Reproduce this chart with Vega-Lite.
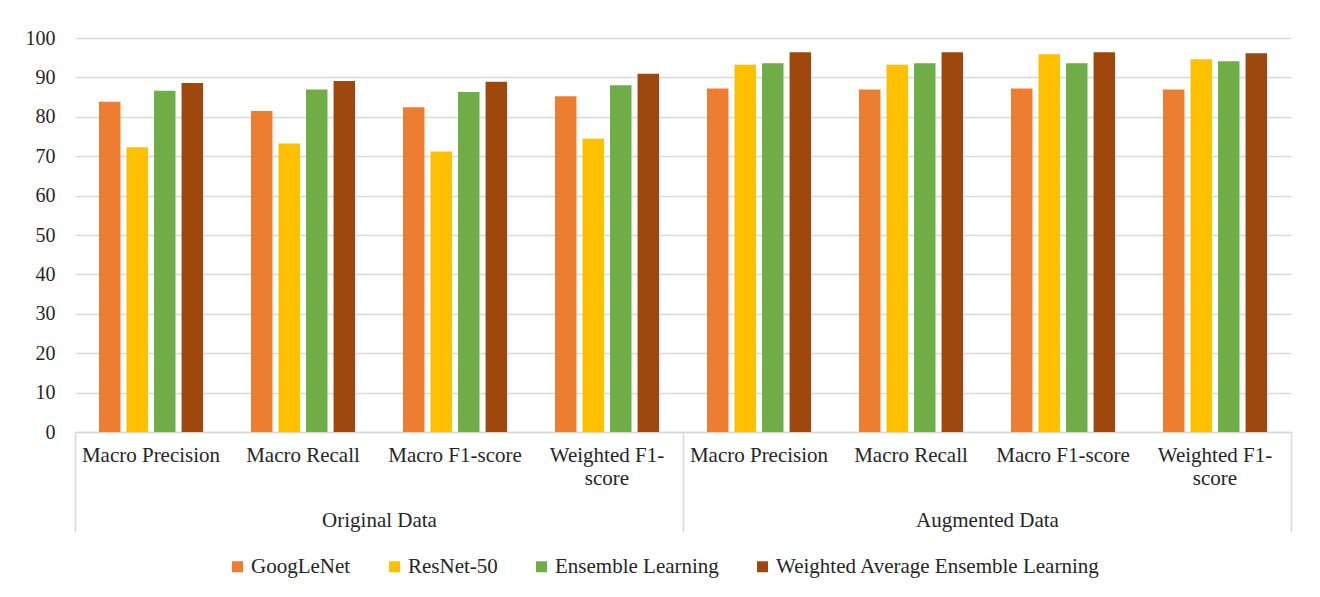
{
  "$schema": "https://vega.github.io/schema/vega-lite/v6.json",
  "width": 1216,
  "height": 394,
  "autosize": {"type": "none"},
  "padding": {"left": 75, "top": 38, "right": 29, "bottom": 165},
  "background": "white",
  "config": {
    "view": {"stroke": null},
    "font": "Liberation Serif"
  },
  "layer": [
    {
      "data": {
        "values": [
          {"category": "Original Data|Macro Precision", "model": "GoogLeNet", "value": 83.8},
          {"category": "Original Data|Macro Precision", "model": "ResNet-50", "value": 72.3},
          {"category": "Original Data|Macro Precision", "model": "Ensemble Learning", "value": 86.6},
          {"category": "Original Data|Macro Precision", "model": "Weighted Average Ensemble Learning", "value": 88.6},
          {"category": "Original Data|Macro Recall", "model": "GoogLeNet", "value": 81.5},
          {"category": "Original Data|Macro Recall", "model": "ResNet-50", "value": 73.2},
          {"category": "Original Data|Macro Recall", "model": "Ensemble Learning", "value": 86.9},
          {"category": "Original Data|Macro Recall", "model": "Weighted Average Ensemble Learning", "value": 89.1},
          {"category": "Original Data|Macro F1-score", "model": "GoogLeNet", "value": 82.4},
          {"category": "Original Data|Macro F1-score", "model": "ResNet-50", "value": 71.2},
          {"category": "Original Data|Macro F1-score", "model": "Ensemble Learning", "value": 86.3},
          {"category": "Original Data|Macro F1-score", "model": "Weighted Average Ensemble Learning", "value": 88.9},
          {"category": "Original Data|Weighted F1-score", "model": "GoogLeNet", "value": 85.2},
          {"category": "Original Data|Weighted F1-score", "model": "ResNet-50", "value": 74.4},
          {"category": "Original Data|Weighted F1-score", "model": "Ensemble Learning", "value": 88.0},
          {"category": "Original Data|Weighted F1-score", "model": "Weighted Average Ensemble Learning", "value": 90.9},
          {"category": "Augmented Data|Macro Precision", "model": "GoogLeNet", "value": 87.2},
          {"category": "Augmented Data|Macro Precision", "model": "ResNet-50", "value": 93.2},
          {"category": "Augmented Data|Macro Precision", "model": "Ensemble Learning", "value": 93.6},
          {"category": "Augmented Data|Macro Precision", "model": "Weighted Average Ensemble Learning", "value": 96.4},
          {"category": "Augmented Data|Macro Recall", "model": "GoogLeNet", "value": 86.9},
          {"category": "Augmented Data|Macro Recall", "model": "ResNet-50", "value": 93.2},
          {"category": "Augmented Data|Macro Recall", "model": "Ensemble Learning", "value": 93.6},
          {"category": "Augmented Data|Macro Recall", "model": "Weighted Average Ensemble Learning", "value": 96.4},
          {"category": "Augmented Data|Macro F1-score", "model": "GoogLeNet", "value": 87.2},
          {"category": "Augmented Data|Macro F1-score", "model": "ResNet-50", "value": 95.9},
          {"category": "Augmented Data|Macro F1-score", "model": "Ensemble Learning", "value": 93.6},
          {"category": "Augmented Data|Macro F1-score", "model": "Weighted Average Ensemble Learning", "value": 96.4},
          {"category": "Augmented Data|Weighted F1-score", "model": "GoogLeNet", "value": 86.9},
          {"category": "Augmented Data|Weighted F1-score", "model": "ResNet-50", "value": 94.6},
          {"category": "Augmented Data|Weighted F1-score", "model": "Ensemble Learning", "value": 94.1},
          {"category": "Augmented Data|Weighted F1-score", "model": "Weighted Average Ensemble Learning", "value": 96.1}
        ]
      },
      "mark": {"type": "bar"},
      "encoding": {
        "x": {
          "field": "category",
          "type": "nominal",
          "sort": null,
          "scale": {"paddingInner": 0, "paddingOuter": 0},
          "axis": {
            "title": null,
            "labelAngle": 0,
            "labelExpr": "split(datum.label, '|')[1] == 'Weighted F1-score' ? ['Weighted F1-', 'score'] : split(datum.label, '|')[1]",
            "labelFont": "Liberation Serif",
            "labelFontSize": 21,
            "labelColor": "#262626",
            "labelLineHeight": 23,
            "labelPadding": 12,
            "labelLimit": 0,
            "ticks": false,
            "domain": true,
            "domainColor": "#d9d9d9",
            "domainWidth": 1.5,
            "grid": false
          }
        },
        "xOffset": {
          "field": "model",
          "type": "nominal",
          "sort": ["GoogLeNet", "ResNet-50", "Ensemble Learning", "Weighted Average Ensemble Learning"],
          "scale": {"paddingInner": 0.22, "paddingOuter": 0.87}
        },
        "y": {
          "field": "value",
          "type": "quantitative",
          "scale": {"domain": [0, 100]},
          "axis": {
            "title": null,
            "values": [0, 10, 20, 30, 40, 50, 60, 70, 80, 90, 100],
            "labelFont": "Liberation Serif",
            "labelFontSize": 20,
            "labelColor": "#262626",
            "labelPadding": 20,
            "ticks": false,
            "domain": false,
            "grid": true,
            "gridColor": "#d9d9d9",
            "gridWidth": 1.5
          }
        },
        "color": {
          "field": "model",
          "type": "nominal",
          "sort": ["GoogLeNet", "ResNet-50", "Ensemble Learning", "Weighted Average Ensemble Learning"],
          "scale": {
            "domain": ["GoogLeNet", "ResNet-50", "Ensemble Learning", "Weighted Average Ensemble Learning"],
            "range": ["#ed7d31", "#ffc000", "#70ad47", "#9e480e"]
          },
          "legend": {
            "title": null,
            "orient": "none",
            "legendX": 152,
            "legendY": 518,
            "direction": "horizontal",
            "symbolType": "square",
            "symbolSize": 121,
            "symbolStrokeWidth": 0,
            "labelFont": "Liberation Serif",
            "labelFontSize": 21,
            "labelColor": "#262626",
            "labelLimit": 0,
            "labelOffset": 3,
            "columnPadding": 33
          }
        }
      }
    },
    {
      "data": {"values": [{"group": "Original Data"}, {"group": "Augmented Data"}]},
      "mark": {"type": "rule", "opacity": 0},
      "encoding": {
        "x": {
          "field": "group",
          "type": "nominal",
          "sort": null,
          "scale": {"paddingInner": 0, "paddingOuter": 0},
          "axis": {
            "title": null,
            "orient": "bottom",
            "labelAngle": 0,
            "labelFont": "Liberation Serif",
            "labelFontSize": 21,
            "labelColor": "#262626",
            "labelLimit": 0,
            "labelPadding": -23,
            "domain": false,
            "ticks": true,
            "tickBand": "extent",
            "tickSize": 100,
            "tickColor": "#d9d9d9",
            "tickWidth": 1.5,
            "grid": false
          }
        }
      }
    }
  ],
  "resolve": {"scale": {"x": "independent"}}
}
